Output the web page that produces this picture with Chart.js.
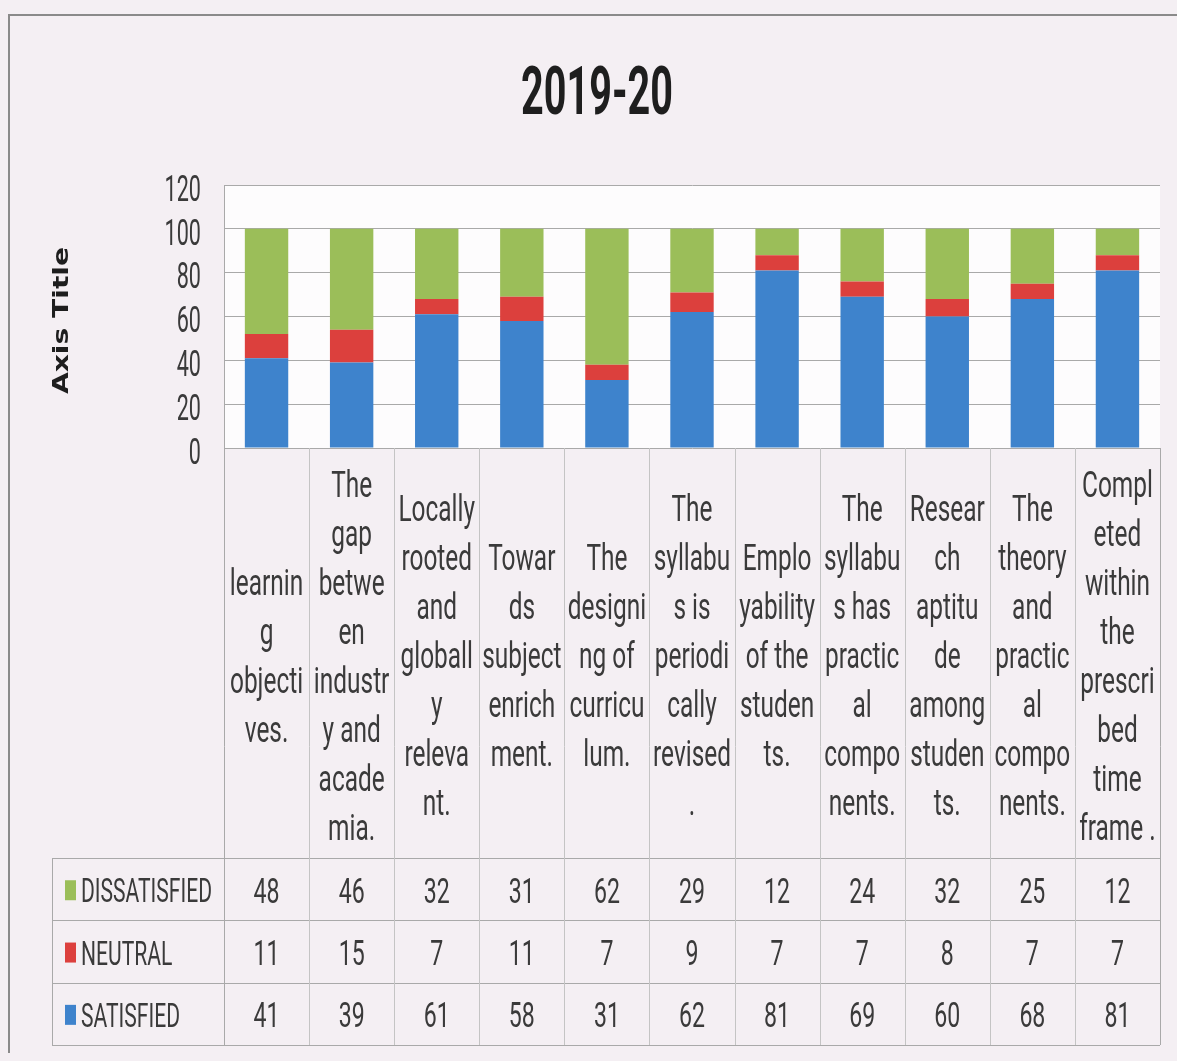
<!DOCTYPE html>
<html>
<head>
<meta charset="utf-8">
<title>2019-20</title>
<script src="https://cdn.jsdelivr.net/npm/chart.js"></script>
<style>
  html, body { margin: 0; padding: 0; background: #f4eff3; overflow: hidden; }
  #frame { position: absolute; left: 0; top: 0; width: 1177px; height: 1061px; }
  #frame:before {
    content: ''; position: absolute; left: 8px; top: 14px; right: -4px; bottom: 8px;
    border-top: 2px solid #8a8a8a; border-left: 2px solid #8a8a8a;
  }
  #wrap { position: absolute; left: 0; top: 0; width: 1177px; height: 1061px; }
</style>
</head>
<body>
<div id="frame"></div>
<div id="wrap"><canvas id="barChart"></canvas></div>
<script>
// chart values
var chartTitle = '2019-20'
var yAxisTitle = 'Axis Title'
var categories = [
  ['learnin', 'g', 'objecti', 'ves.'],
  ['The', 'gap', 'betwe', 'en', 'industr', 'y and', 'acade', 'mia.'],
  ['Locally', 'rooted', 'and', 'globall', 'y', 'releva', 'nt.'],
  ['Towar', 'ds', 'subject', 'enrich', 'ment.'],
  ['The', 'designi', 'ng of', 'curricu', 'lum.'],
  ['The', 'syllabu', 's is', 'periodi', 'cally', 'revised', '.'],
  ['Emplo', 'yability', 'of the', 'studen', 'ts.'],
  ['The', 'syllabu', 's has', 'practic', 'al', 'compo', 'nents.'],
  ['Resear', 'ch', 'aptitu', 'de', 'among', 'studen', 'ts.'],
  ['The', 'theory', 'and', 'practic', 'al', 'compo', 'nents.'],
  ['Compl', 'eted', 'within', 'the', 'prescri', 'bed', 'time', 'frame .']
]
var satisfied = [41, 39, 61, 58, 31, 62, 81, 69, 60, 68, 81]
var neutral = [11, 15, 7, 11, 7, 9, 7, 7, 8, 7, 7]
var dissatisfied = [48, 46, 32, 31, 62, 29, 12, 24, 32, 25, 12]
var yTicks = [0, 20, 40, 60, 80, 100, 120]

var FONT = "Roboto, 'Liberation Sans', sans-serif"
var TEXT = '#3a3a3a'
var LINE = '#a9a9a9'

// scanned Calibri text is tall and narrow: squeeze the glyphs sideways
function drawText(ctx, str, x, y, size, sx, align, weight, family) {
  ctx.save()
  ctx.font = (weight || 'normal') + ' ' + size + 'px ' + (family || FONT)
  ctx.textAlign = align
  ctx.textBaseline = 'alphabetic'
  ctx.translate(x, y)
  ctx.scale(sx, 1)
  ctx.fillText(str, 0, size * 0.355)
  ctx.restore()
}

//---------------------------------
//- data table drawn under the bars
//---------------------------------
var dataTablePlugin = {
  id: 'dataTable',
  beforeDraw: function(chart) {
    var ctx = chart.ctx
    var a = chart.chartArea
    ctx.save()
    ctx.fillStyle = '#fdfcfd'
    ctx.fillRect(a.left, a.top, a.right - a.left, a.bottom - a.top)
    ctx.restore()
  },
  afterDraw: function(chart) {
    var ctx = chart.ctx
    var a = chart.chartArea
    var xs = chart.scales.x
    var ys = chart.scales.y
    var step = xs.getPixelForValue(1) - xs.getPixelForValue(0)
    var tableBottom = chart.height - 16
    var rowH = 62.3
    var labelBottom = tableBottom - 3 * rowH
    var tableLeft = 52
    var rows = chart.data.datasets.slice().reverse()

    ctx.save()
    ctx.fillStyle = '#1e1e1e'
    // chart title
    drawText(ctx, chartTitle, 597, 91, 66, 0.6, 'center', 'bold')

    // y axis title, rotated
    ctx.save()
    ctx.translate(62, (a.top + a.bottom) / 2 + 4)
    ctx.rotate(-Math.PI / 2)
    ctx.scale(1.28, 1)
    ctx.font = 'bold 22px "DejaVu Sans", sans-serif'
    ctx.textAlign = 'center'
    ctx.textBaseline = 'middle'
    ctx.fillText(yAxisTitle, 0, 0)
    ctx.restore()

    // y tick labels from the scale
    ctx.fillStyle = TEXT
    ys.ticks.forEach(function(t) {
      drawText(ctx, String(t.value), 201, ys.getPixelForValue(t.value) + 3, 36, 0.6, 'right')
    })

    ctx.strokeStyle = LINE
    ctx.lineWidth = 1

    // horizontal rules of the table
    for (var r = 0; r <= 3; r++) {
      var yy = Math.round(labelBottom + r * rowH) + 0.5
      ctx.beginPath()
      ctx.moveTo(tableLeft, yy)
      ctx.lineTo(a.right, yy)
      ctx.stroke()
    }
    ctx.beginPath()
    ctx.moveTo(tableLeft + 0.5, labelBottom)
    ctx.lineTo(tableLeft + 0.5, tableBottom)
    ctx.stroke()

    // column rules
    for (var i = 0; i <= categories.length; i++) {
      var xx = Math.round(xs.getPixelForValue(i) - step / 2) + 0.5
      ctx.strokeStyle = (i === 0 || i === categories.length) ? LINE : '#c4c4c4'
      ctx.beginPath()
      ctx.moveTo(xx, a.bottom)
      ctx.lineTo(xx, tableBottom)
      ctx.stroke()
    }

    // category labels, centred in their cells
    ctx.fillStyle = TEXT
    var mid = (a.bottom + labelBottom) / 2 + 2
    var lineH = 49
    for (var c = 0; c < categories.length; c++) {
      var lines = categories[c]
      var cx = xs.getPixelForValue(c)
      var y0 = mid - (lines.length - 1) * lineH / 2
      for (var l = 0; l < lines.length; l++) {
        drawText(ctx, lines[l], cx, y0 + l * lineH, 37, 0.66, 'center')
      }
    }

    // series rows: legend key, name, values
    for (var k = 0; k < rows.length; k++) {
      var cy = labelBottom + k * rowH + rowH / 2 + 1
      ctx.fillStyle = rows[k].backgroundColor
      ctx.fillRect(65, cy - 10, 11, 20)
      ctx.fillStyle = TEXT
      drawText(ctx, rows[k].label, 81, cy, 34, 0.62, 'left')
      for (var v = 0; v < rows[k].data.length; v++) {
        drawText(ctx, String(rows[k].data[v]), xs.getPixelForValue(v), cy, 35, 0.66, 'center')
      }
    }
    ctx.restore()
  }
}

//-------------
//- BAR CHART -
//-------------
var barChartCanvas = document.getElementById('barChart').getContext('2d')
var barChartData = {
  labels: categories.map(function(c) { return c.join(' ') }),
  datasets: [{
      label: 'SATISFIED',
      backgroundColor: '#3e83cc',
      data: satisfied
    },
    {
      label: 'NEUTRAL',
      backgroundColor: '#dc403d',
      data: neutral
    },
    {
      label: 'DISSATISFIED',
      backgroundColor: '#9bbe59',
      data: dissatisfied
    }
  ]
}

var barChartOptions = {
  responsive: true,
  maintainAspectRatio: false,
  animation: false,
  layout: {
    padding: { left: 0, right: 17, top: 185, bottom: 16 }
  },
  datasets: {
    bar: { categoryPercentage: 1, barPercentage: 0.51 }
  },
  plugins: {
    legend: { display: false },
    tooltip: { enabled: false },
    title: { display: false }
  },
  scales: {
    x: {
      stacked: true,
      grid: { display: false },
      border: { display: false },
      ticks: { display: false },
      afterFit: function(scale) { scale.height = 597 }
    },
    y: {
      stacked: true,
      min: 0,
      max: 120,
      afterBuildTicks: function(scale) {
        scale.ticks = yTicks.map(function(v) { return { value: v } })
      },
      grid: { color: LINE, lineWidth: 1, drawTicks: false },
      border: { display: true, color: LINE },
      ticks: { display: false },
      afterFit: function(scale) { scale.width = 224 }
    }
  }
}

var barChart = new Chart(barChartCanvas, {
  type: 'bar',
  data: barChartData,
  options: barChartOptions,
  plugins: [dataTablePlugin]
})
</script>
</body>
</html>
